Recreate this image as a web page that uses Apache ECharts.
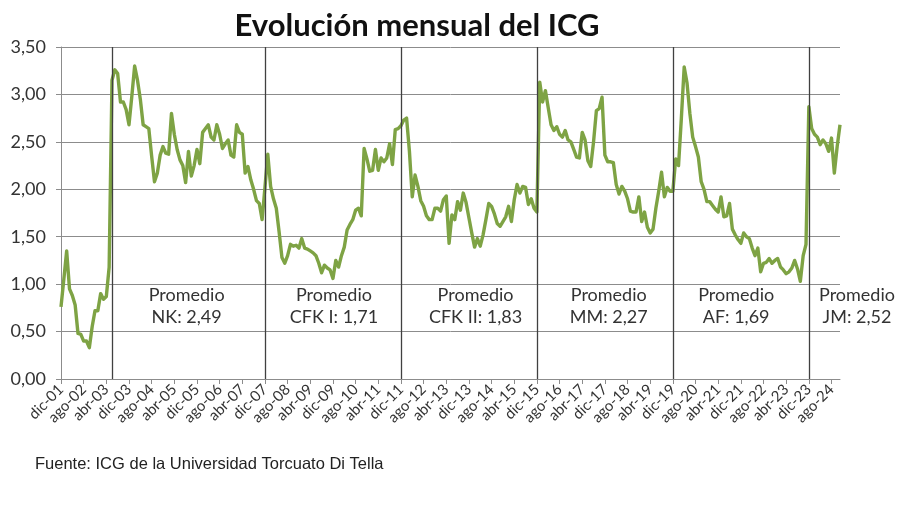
<!DOCTYPE html>
<html>
<head>
<meta charset="utf-8">
<script src="https://cdn.jsdelivr.net/npm/echarts@6/dist/echarts.min.js"></script>
<style>
html,body{margin:0;padding:0;background:#fff;}
#chart{width:900px;height:505px;}
</style>
</head>
<body>
<div id="chart"></div>
<script>
// Month names and span (dic-01 .. nov-24)
var monthNames = ['ene','feb','mar','abr','may','jun','jul','ago','sep','oct','nov','dic'];
var firstYear = 2001, firstMonth = 11, monthCount = 276;

// ICG monthly values by period
var icgDuhalde = [0.76,1.05,1.35,0.95,0.88,0.78,0.48,0.47,0.40,0.40,0.33,0.55,0.72,0.72,0.90,0.84,0.87,1.18];
var icgNK = [3.15,3.26,3.22,2.92,2.92,2.84,2.68,2.98,3.30,3.15,2.95,2.68,2.66,2.64,2.35,2.08,2.17,2.36,2.45,2.38,2.37,2.80,2.58,2.42,2.31,2.25,2.07,2.40,2.14,2.25,2.42,2.27,2.60,2.64,2.68,2.55,2.52,2.68,2.58,2.43,2.48,2.52,2.36,2.34,2.68,2.60,2.58,2.17,2.24,2.10,2.00,1.88,1.85,1.68];
var icgCFK1 = [2.02,2.37,2.03,1.90,1.80,1.55,1.28,1.22,1.30,1.42,1.40,1.41,1.38,1.48,1.38,1.37,1.35,1.33,1.30,1.22,1.12,1.20,1.17,1.15,1.06,1.25,1.18,1.30,1.39,1.57,1.63,1.68,1.78,1.80,1.72,2.43,2.32,2.19,2.20,2.42,2.20,2.33,2.29,2.33,2.48,2.26,2.63,2.64];
var icgCFK2 = [2.67,2.73,2.75,2.40,1.92,2.15,2.03,1.88,1.82,1.72,1.68,1.68,1.80,1.80,1.77,1.89,1.93,1.43,1.73,1.68,1.87,1.78,1.96,1.86,1.70,1.54,1.39,1.48,1.40,1.52,1.68,1.85,1.82,1.74,1.64,1.61,1.66,1.71,1.82,1.66,1.89,2.05,1.96,2.03,2.02,1.84,1.90,1.80];
var icgMM = [1.76,3.13,2.92,3.04,2.86,2.68,2.62,2.66,2.58,2.55,2.62,2.52,2.50,2.42,2.34,2.33,2.60,2.52,2.30,2.24,2.50,2.83,2.85,2.97,2.36,2.29,2.29,2.28,2.05,1.95,2.03,1.98,1.90,1.77,1.76,1.76,1.92,1.66,1.76,1.60,1.54,1.58,1.80,1.98,2.18,1.92,2.02,1.98];
var icgAF = [1.98,2.32,2.25,2.75,3.29,3.12,2.80,2.55,2.45,2.34,2.08,2.00,1.87,1.87,1.83,1.79,1.76,1.92,1.71,1.72,1.85,1.58,1.52,1.47,1.43,1.54,1.50,1.48,1.38,1.30,1.38,1.13,1.22,1.23,1.27,1.22,1.25,1.27,1.18,1.15,1.11,1.13,1.17,1.25,1.16,1.03,1.30,1.42];
var icgJM = [2.87,2.64,2.58,2.55,2.47,2.52,2.48,2.40,2.54,2.17,2.45,2.68];

// Government changes (vertical lines) and period averages
var changeMonths = ['jun-03','dic-07','dic-11','dic-15','dic-19','dic-23'];
var avgNames = ['NK: 2,49','CFK I: 1,71','CFK II: 1,83','MM: 2,27','AF: 1,69','JM: 2,52'];
var avgAnchors = ['ago-05','dic-09','feb-14','ene-18','oct-21','nov-24'];
var avgLevel = 0.765;

// Y ticks
var yMin = 0, yMax = 3.5, yStep = 0.5;

var categories = [];
for (var k = 0; k < monthCount; k++) {
  var m = (firstMonth + k) % 12;
  var y = firstYear + Math.floor((firstMonth + k) / 12);
  categories.push(monthNames[m] + '-' + String(y % 100).padStart(2, '0'));
}
var icg = [].concat(icgDuhalde, icgNK, icgCFK1, icgCFK2, icgMM, icgAF, icgJM);

var chart = echarts.init(document.getElementById('chart'), null, {renderer: 'canvas'});

var markPts = avgNames.map(function (n, i) {
  return {
    coord: [avgAnchors[i], avgLevel],
    value: n,
    label: {
      formatter: 'Promedio\n' + n,
      offset: i === avgNames.length - 1 ? [17, 0] : [1, 0]
    }
  };
});

chart.setOption({
  animation: false,
  backgroundColor: '#ffffff',
  title: {
    text: 'Evolución mensual del ICG',
    left: 412,
    top: 5,
    textAlign: 'center',
    textStyle: {fontFamily: 'Lato', fontWeight: 'bold', fontSize: 31, color: '#111'}
  },
  graphic: [{
    type: 'text',
    left: 35,
    top: 456,
    style: {
      text: 'Fuente: ICG de la Universidad Torcuato Di Tella',
      font: '16.5px "Liberation Sans", Arial, sans-serif',
      fill: '#222'
    }
  }],
  grid: {left: 61, right: 60, top: 47, bottom: 126, containLabel: false},
  xAxis: {
    type: 'category',
    data: categories,
    boundaryGap: false,
    axisLine: {show: true, lineStyle: {color: '#8c8c8c', width: 1}},
    axisTick: {show: true, interval: 7, length: 5, lineStyle: {color: '#8c8c8c'}},
    axisLabel: {
      interval: 7, rotate: 45, margin: 8,
      fontFamily: 'Lato', fontSize: 15, color: '#333'
    },
    splitLine: {show: false}
  },
  yAxis: {
    type: 'value',
    min: yMin, max: yMax, interval: yStep,
    axisLine: {show: true, lineStyle: {color: '#8c8c8c', width: 1}},
    axisTick: {show: true, length: 5, lineStyle: {color: '#8c8c8c'}},
    axisLabel: {
      margin: 15,
      fontFamily: 'Lato', fontSize: 18, color: '#333',
      formatter: function (v) { return v.toFixed(2).replace('.', ','); }
    },
    splitLine: {show: true, lineStyle: {color: '#8c8c8c', width: 1}}
  },
  series: [{
    type: 'line',
    data: icg,
    showSymbol: false,
    symbol: 'none',
    clip: false,
    lineStyle: {color: '#7ea344', width: 3.4, join: 'round'},
    markLine: {
      silent: true,
      symbol: ['none', 'none'],
      label: {show: false},
      lineStyle: {color: '#404040', width: 1.3, type: 'solid'},
      data: changeMonths.map(function (c) { return {xAxis: c}; })
    },
    markPoint: {
      silent: true,
      symbol: 'circle',
      symbolSize: 0,
      itemStyle: {color: 'transparent'},
      label: {
        show: true, position: 'inside',
        fontFamily: 'Lato', fontSize: 18, lineHeight: 22,
        color: '#333', align: 'center'
      },
      data: markPts
    }
  }]
});
</script>
</body>
</html>
